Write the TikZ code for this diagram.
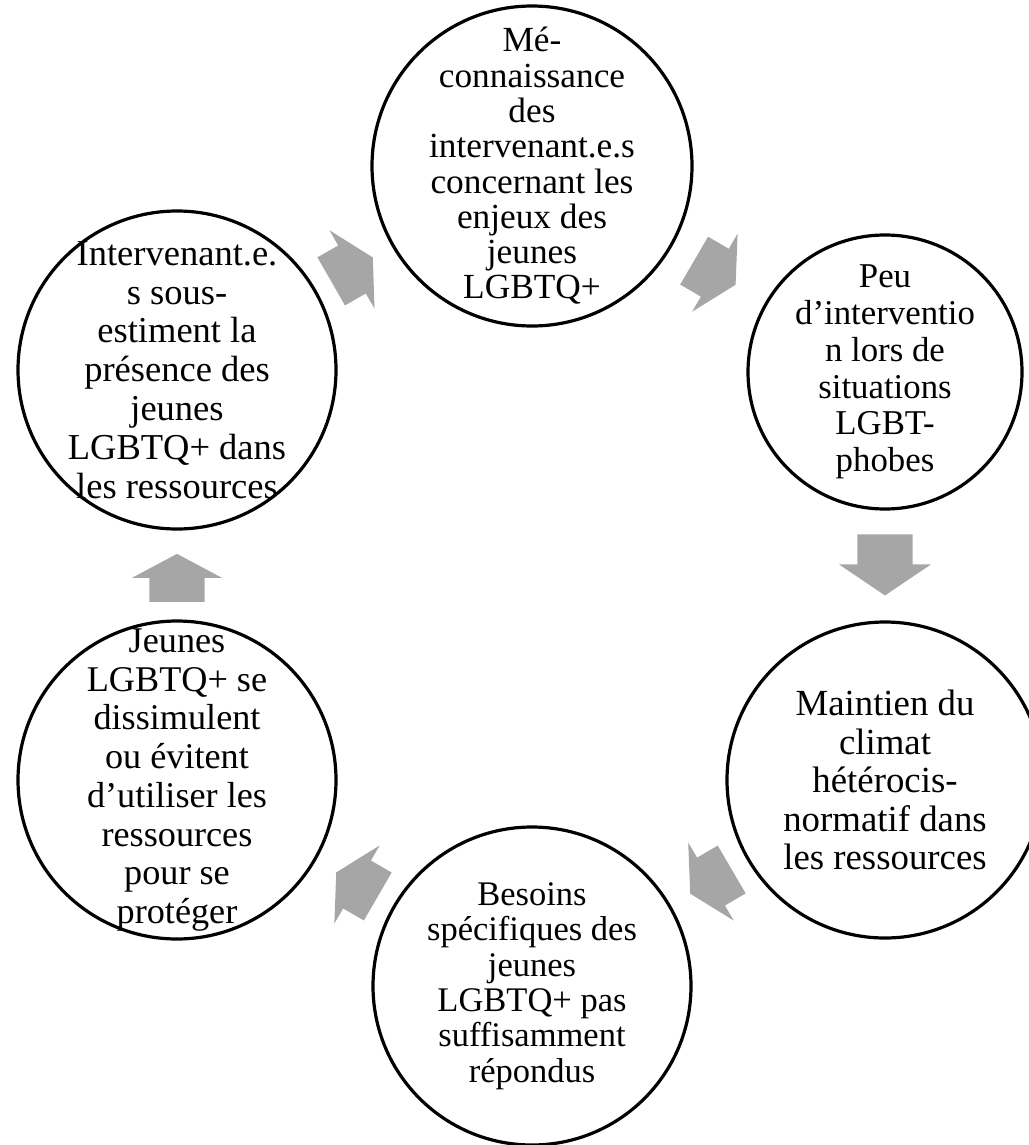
\documentclass[tikz,border=0pt]{standalone}
\usepackage{fontspec}
\setmainfont{Liberation Serif}
\usetikzlibrary{shapes.arrows, positioning}
\definecolor{arrowgray}{RGB}{166,166,166}

\begin{document}
\begin{tikzpicture}[x=1pt, y=-1pt, phase/.style={
        circle,
        draw=black,
        text=black,
        fill=white,
        line width=3.2pt,
        inner sep=-90pt,
        minimum size=318pt,
        align=center,
        font=\fontsize{36}{38.6}\selectfont
    }, cyclearrow/.style={
        single arrow,
        fill=arrowgray,
        inner sep=0pt,
        inner ysep=27.5pt,
        minimum height=48pt,
        single arrow head extend=17.5pt,
        single arrow tip angle=124,
        sloped,
        allow upside down,
        pos=0.475
    }]
    \useasboundingbox (0,0) rectangle (1028,1145);
    \node (meconn) [phase, minimum size=320pt, font=\fontsize{35.3}{35.3}\selectfont] at (532,166) {Mé-\\connaissance\\des\\intervenant.e.s\\concernant les\\enjeux des\\jeunes\\LGBTQ+};
    \node (peuinterv) [phase, minimum size=274pt, font=\fontsize{34.8}{36.8}\selectfont] at (885,372) {Peu\\d’interventio\\n lors de\\situations\\LGBT-\\phobes};
    \node (maintien) [phase, minimum size=316pt, font=\fontsize{36.8}{38.5}\selectfont] at (885,780) {Maintien du\\climat\\hétérocis-\\normatif dans\\les ressources};
    \node (besoins) [phase, font=\fontsize{34.5}{35.4}\selectfont] at (532,986) {Besoins\\spécifiques des\\jeunes\\LGBTQ+ pas\\suffisamment\\répondus};
    \node (dissim) [phase, font=\fontsize{36.2}{38.7}\selectfont] at (177,780) {Jeunes\\LGBTQ+ se\\dissimulent\\ou évitent\\d’utiliser les\\ressources\\pour se\\protéger};
    \node (sousestim) [phase, font=\fontsize{36.5}{38.8}\selectfont] at (177,370) {Intervenant.e.\\s sous-\\estiment la\\présence des\\jeunes\\LGBTQ+ dans\\les ressources};
    \path (sousestim.center) -- node[cyclearrow] {} (meconn.center);
    \path (meconn.center) -- node[cyclearrow, pos=0.5] {} (peuinterv.center);
    \path (peuinterv.center) -- node[cyclearrow, pos=0.45, minimum height=61pt, single arrow head extend=18.5pt, single arrow tip angle=112] {} (maintien.center);
    \path (maintien.center) -- node[cyclearrow] {} (besoins.center);
    \path (besoins.center) -- node[cyclearrow] {} (dissim.center);
    \path (dissim.center) -- node[cyclearrow] {} (sousestim.center);
\end{tikzpicture}
\end{document}
